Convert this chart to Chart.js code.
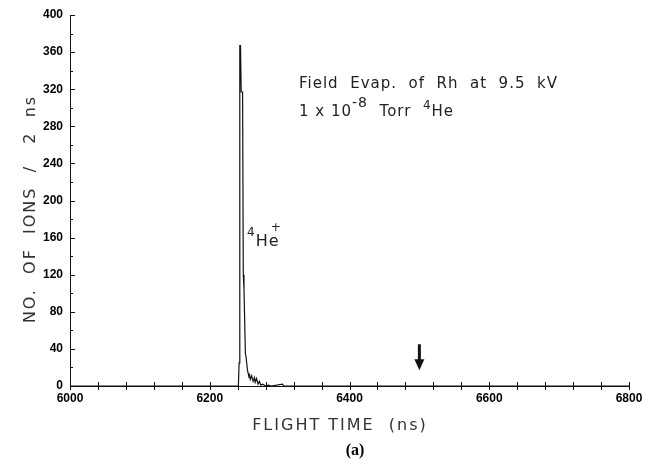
<!DOCTYPE html>
<html>
<head>
<meta charset="utf-8">
<script src="https://cdn.jsdelivr.net/npm/chart.js@4.4.1/dist/chart.umd.min.js"></script>
<style>
  html, body { margin: 0; padding: 0; background: #fff; }
  #wrap { width: 654px; height: 470px; }
</style>
</head>
<body>
<div id="wrap"><canvas id="tof" width="654" height="470"></canvas></div>
<script>
// flight time (ns) and ion counts per 2 ns bin
const flightTime = [6000, 6241, 6242, 6243, 6244, 6245, 6247, 6248, 6249, 6250, 6251, 6252,
  6254, 6256, 6257, 6258, 6260, 6262, 6264, 6265, 6267, 6269, 6271, 6273, 6276, 6280,
  6284, 6288, 6304, 6306, 6800];
const ionCounts = [0, 0, 25, 367, 367, 317, 317, 120, 105, 70, 35, 31,
  17, 10, 12, 7, 11, 5, 9, 4, 8, 2, 5, 1, 2, 0,
  1, 0, 2, 0, 0];

// labelled ticks
const xTickLabels = [6000, 6200, 6400, 6600, 6800];
const yTickLabels = [0, 40, 80, 120, 160, 200, 240, 280, 320, 360, 400];

// the down arrow marks this flight time
const arrowAt = 6500;

const ink = '#111';

const decor = {
  id: 'decor',
  afterDraw(chart) {
    const ctx = chart.ctx;
    const xs = chart.scales.x, ys = chart.scales.y;
    const area = chart.chartArea;
    ctx.save();
    ctx.strokeStyle = ink;
    ctx.fillStyle = ink;
    ctx.lineWidth = 1;

    //x ticks cross the axis
    xs.ticks.forEach(t => {
      const px = Math.round(xs.getPixelForValue(t.value)) + 0.5;
      ctx.beginPath();
      ctx.moveTo(px, area.bottom - 4);
      ctx.lineTo(px, area.bottom + 4);
      ctx.stroke();
    });

    //y ticks point into the plot
    ys.ticks.forEach(t => {
      const py = Math.round(ys.getPixelForValue(t.value)) + 0.5;
      const len = yTickLabels.includes(t.value) ? 5 : 3;
      ctx.beginPath();
      ctx.moveTo(area.left, py);
      ctx.lineTo(area.left + len, py);
      ctx.stroke();
    });

    //arrow
    const ax = xs.getPixelForValue(arrowAt);
    const top = ys.getPixelForValue(45), tip = ys.getPixelForValue(17);
    ctx.fillRect(ax - 1.5, top, 3, tip - top - 8);
    ctx.beginPath();
    ctx.moveTo(ax - 5, tip - 11);
    ctx.lineTo(ax + 5, tip - 11);
    ctx.lineTo(ax, tip);
    ctx.closePath();
    ctx.fill();

    //text
    ctx.fillStyle = '#222';
    ctx.textBaseline = 'alphabetic';
    ctx.textAlign = 'left';
    ctx.letterSpacing = '1px';
    ctx.font = '15px "DejaVu Sans"';
    ctx.fillText('Field  Evap.  of  Rh  at  9.5  kV', 299, 88);

    let x = 299;
    const put = (s, font, dy) => {
      ctx.font = font;
      ctx.fillText(s, x, 116 + dy);
      x += ctx.measureText(s).width;
    };
    put('1 x 10', '15px "DejaVu Sans"', 0);
    put('-8', '14px "DejaVu Sans"', -9);
    put('  Torr  ', '15px "DejaVu Sans"', 0);
    put('4', '12px "DejaVu Sans"', -7);
    put('He', '15px "DejaVu Sans"', 0);

    //peak label
    x = 247;
    ctx.font = '12px "DejaVu Sans"';
    ctx.fillText('4', x, 236);
    x += ctx.measureText('4').width;
    ctx.font = '16px "DejaVu Sans"';
    ctx.fillText('He', x, 246);
    ctx.font = '12px "DejaVu Sans"';
    ctx.fillText('+', x + 15, 231);

    //axis titles
    ctx.font = '16px "DejaVu Sans"';
    ctx.letterSpacing = '2px';
    ctx.textAlign = 'center';
    ctx.fillStyle = '#333';
    ctx.fillText('FLIGHT TIME  (ns)', 340, 430);
    ctx.save();
    ctx.translate(35, 209);
    ctx.rotate(-Math.PI / 2);
    ctx.fillText('NO.  OF  IONS  /   2  ns', 0, 0);
    ctx.restore();

    ctx.letterSpacing = '0px';
    ctx.fillStyle = '#000';
    ctx.font = 'bold 16px "Liberation Serif"';
    ctx.fillText('(a)', 355, 455);
    ctx.restore();
  }
};

const ctx = document.getElementById('tof').getContext('2d');
new Chart(ctx, {
  type: 'line',
  data: {
    datasets: [{
      data: flightTime.map((t, i) => ({ x: t, y: ionCounts[i] })),
      borderColor: ink,
      borderWidth: 1.2,
      pointRadius: 0,
      tension: 0,
      fill: false
    }]
  },
  options: {
    responsive: false,
    animation: false,
    layout: { padding: { left: 0, right: 25, top: 15, bottom: 0 } },
    plugins: { legend: { display: false }, tooltip: { enabled: false } },
    scales: {
      x: {
        type: 'linear',
        min: 6000,
        max: 6800,
        grid: { display: false, drawTicks: false },
        border: { display: true, color: ink, width: 1 },
        ticks: {
          stepSize: 40,
          autoSkip: false,
          maxTicksLimit: 100,
          maxRotation: 0,
          padding: 5,
          color: '#000',
          font: { family: '"Liberation Sans"', size: 12, weight: 'bold' },
          callback: v => xTickLabels.includes(v) ? String(v) : ''
        },
        afterFit: s => { s.height = 84; }
      },
      y: {
        min: 0,
        max: 400,
        grid: { display: false, drawTicks: false },
        border: { display: true, color: ink, width: 1 },
        ticks: {
          stepSize: 20,
          autoSkip: false,
          maxTicksLimit: 100,
          padding: 7,
          color: '#000',
          font: { family: '"Liberation Sans"', size: 12, weight: 'bold' },
          callback: v => yTickLabels.includes(v) ? String(v) : ''
        },
        afterFit: s => { s.width = 70; }
      }
    }
  },
  plugins: [decor]
});
</script>
</body>
</html>
